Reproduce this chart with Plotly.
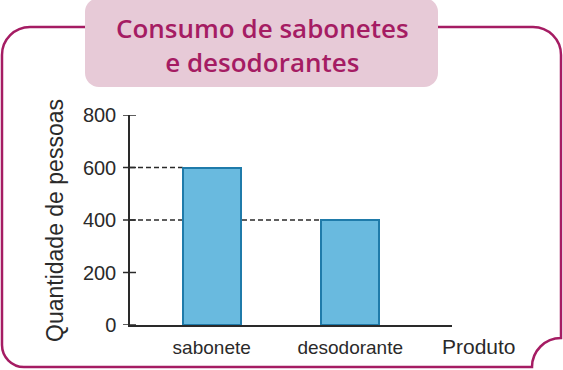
import plotly.graph_objects as go

# ---- data ----
categories = ["sabonete", "desodorante"]
values = [600, 400]
y_ticks = [0, 200, 400, 600, 800]
title_text = "Consumo de sabonetes<br>e desodorantes"
y_title = "Quantidade de pessoas"
x_title = "Produto"

# ---- style ----
W, H = 563, 370
MAG = "#A51C63"
PINK = "#E7CAD7"
INK = "#2a2a2a"
BAR_FILL = "#69BADF"
BAR_LINE = "#1F7BAA"
FONT = "Liberation Sans"
BAR_W = 0.42
X_RANGE = [-0.59, 1.735]
X_DOMAIN = [130 / W, 452 / W]
Y_DOMAIN = [1 - 325 / H, 1 - 115 / H]

def P(x, y):
    return f"{x / W:.5f},{1 - y / H:.5f}"

K = 0.5523

def frame_path(L, T, R, B, rtl, rtr, rbl, rc):
    d = f"M {P(L, B - rbl)} L {P(L, T + rtl)} "
    d += f"C {P(L, T + rtl - K*rtl)} {P(L + rtl - K*rtl, T)} {P(L + rtl, T)} "
    d += f"L {P(R - rtr, T)} "
    d += f"C {P(R - rtr + K*rtr, T)} {P(R, T + rtr - K*rtr)} {P(R, T + rtr)} "
    d += f"L {P(R, B - rc)} "
    d += f"C {P(R - K*rc, B - rc)} {P(R - rc, B - K*rc)} {P(R - rc, B)} "
    d += f"L {P(L + rbl, B)} "
    d += f"C {P(L + rbl - K*rbl, B)} {P(L, B - rbl + K*rbl)} {P(L, B - rbl)} Z"
    return d

def rounded_rect(L, T, R, B, r):
    d = f"M {P(L + r, T)} L {P(R - r, T)} "
    d += f"C {P(R - r + K*r, T)} {P(R, T + r - K*r)} {P(R, T + r)} "
    d += f"L {P(R, B - r)} "
    d += f"C {P(R, B - r + K*r)} {P(R - r + K*r, B)} {P(R - r, B)} "
    d += f"L {P(L + r, B)} "
    d += f"C {P(L + r - K*r, B)} {P(L, B - r + K*r)} {P(L, B - r)} "
    d += f"L {P(L, T + r)} "
    d += f"C {P(L, T + r - K*r)} {P(L + r - K*r, T)} {P(L + r, T)} Z"
    return d

xs = list(range(len(categories)))

fig = go.Figure()
fig.add_trace(go.Bar(
    x=xs, y=values, width=BAR_W,
    marker=dict(color=BAR_FILL, line=dict(color=BAR_LINE, width=2)),
    hoverinfo="skip", showlegend=False,
))

shapes = []
shapes.append(dict(type="path", xref="paper", yref="paper",
                   path=frame_path(2, 27, 561, 367, 28, 28, 22, 29),
                   line=dict(color=MAG, width=2.5), fillcolor="rgba(0,0,0,0)"))
shapes.append(dict(type="path", xref="paper", yref="paper",
                   path=rounded_rect(85, -2, 438, 87, 14),
                   line=dict(width=0), fillcolor=PINK))
# dashed guide lines from the axis to each bar's left edge
for i, v in enumerate(values):
    shapes.append(dict(type="line", xref="x", yref="y", layer="below",
                       x0=X_RANGE[0], x1=xs[i] - BAR_W / 2, y0=v, y1=v,
                       line=dict(color=INK, width=1.3, dash="5px,3px")))
# tick marks crossing the y axis
for t in y_ticks:
    shapes.append(dict(type="line", xref="paper", yref="y",
                       xsizemode="pixel", xanchor=X_DOMAIN[0], x0=-7, x1=6,
                       y0=t, y1=t, line=dict(color=INK, width=1.5)))

fig.update_layout(
    width=W, height=H,
    margin=dict(l=0, r=0, t=0, b=0, pad=0, autoexpand=False),
    paper_bgcolor="white", plot_bgcolor="white",
    font=dict(family=FONT, color=INK),
    shapes=shapes,
    bargap=0,
    xaxis=dict(
        domain=X_DOMAIN, range=X_RANGE, automargin=False,
        tickvals=xs, ticktext=categories,
        showline=True, linecolor=INK, linewidth=1.5,
        ticks="", showgrid=False, zeroline=False,
        tickfont=dict(size=19, family=FONT, color=INK),
        ticklabelstandoff=4,
    ),
    yaxis=dict(
        domain=Y_DOMAIN, range=[0, 800], automargin=False,
        tickvals=y_ticks,
        showline=True, linecolor=INK, linewidth=1.5,
        ticks="", showgrid=False, zeroline=False,
        tickfont=dict(size=20, family=FONT, color=INK),
        ticklabelstandoff=8,
    ),
    annotations=[
        dict(text=title_text, xref="paper", yref="paper",
             x=262 / W, y=1 - 45 / H, showarrow=False,
             xanchor="center", yanchor="middle", align="center",
             font=dict(family="Open Sans", size=26, color=MAG, weight=600)),
        dict(text=y_title, xref="paper", yref="paper",
             x=55 / W, y=1 - 221 / H, showarrow=False, textangle=-90,
             xanchor="center", yanchor="middle",
             font=dict(family=FONT, size=23, color=INK)),
        dict(text=x_title, xref="paper", yref="paper",
             x=479 / W, y=1 - 346 / H, showarrow=False,
             xanchor="center", yanchor="middle",
             font=dict(family=FONT, size=21, color=INK)),
    ],
)

fig.write_html("out.html")
